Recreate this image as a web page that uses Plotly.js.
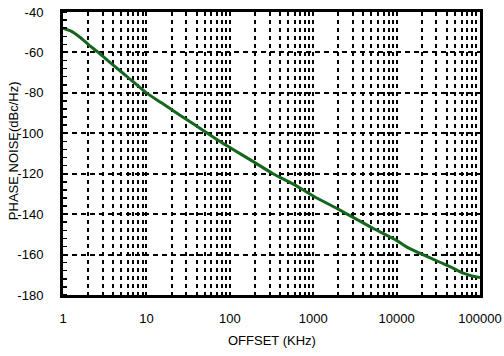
<!DOCTYPE html>
<html>
<head>
<meta charset="utf-8">
<script src="https://cdn.plot.ly/plotly-3.0.1.min.js"></script>
<style>html,body{margin:0;padding:0;background:#fff;}#chart{width:504px;height:356px;}</style>
</head>
<body>
<div id="chart"></div>
<script>
const offsetKHz = [1, 1.25, 1.6, 2, 2.65, 4, 6, 10, 15, 25, 40, 72, 100, 200, 330, 600, 1000, 2090, 5200, 10000, 13300, 20000, 33000, 47500, 63000, 80000, 100000];
const phaseNoise = [-48, -49.5, -52.5, -56, -60, -66.3, -72.3, -80, -84.8, -90.9, -96.4, -103.4, -107, -114.5, -120, -125.5, -131, -138, -147, -153, -156.3, -159.8, -163.8, -166.7, -169.2, -170.6, -171.3];
const xTickVals = [1, 10, 100, 1000, 10000, 100000];
const xTickText = ['1', '10', '100', '1000', '10000', '100000'];
const yTickVals = [-180, -160, -140, -120, -100, -80, -60, -40];
const yTickText = ['-180', '-160', '-140', '-120', '-100', '-80', '-60', '-40'];
const xTitle = 'OFFSET (KHz)';
const yTitle = 'PHASE NOISE(dBc/Hz)';

const font = {family: 'Liberation Sans, Arial, sans-serif', size: 13, color: '#000'};

Plotly.newPlot('chart', [{
  x: offsetKHz, y: phaseNoise, type: 'scatter', mode: 'lines',
  line: {color: '#16661f', width: 3, shape: 'spline', smoothing: 0.6},
  hoverinfo: 'skip'
}], {
  width: 504, height: 356,
  margin: {l: 63, r: 24, t: 12, b: 61},
  paper_bgcolor: '#fff', plot_bgcolor: '#fff',
  showlegend: false,
  font: font,
  xaxis: {
    type: 'log', range: [0, 5],
    tickmode: 'array', tickvals: xTickVals, ticktext: xTickText,
    showline: true, linecolor: '#000', linewidth: 3, mirror: true,
    showgrid: true, gridcolor: '#000', gridwidth: 2, griddash: '4px,4px',
    ticks: '', ticklabelstandoff: 9,
    zeroline: false,
    minor: {dtick: 'D1', showgrid: true, gridcolor: '#000', gridwidth: 2, griddash: '4px,4px', ticks: ''},
    tickfont: font
  },
  yaxis: {
    range: [-180, -40],
    tickmode: 'array', tickvals: yTickVals, ticktext: yTickText,
    showline: true, linecolor: '#000', linewidth: 3, mirror: true,
    showgrid: true, gridcolor: '#000', gridwidth: 2, griddash: '5px,4px',
    ticks: '', ticklabelstandoff: 14,
    zeroline: false,
    minor: {dtick: 4, ticks: 'inside', ticklen: 4, tickwidth: 1.5, tickcolor: '#000', showgrid: false},
    tickfont: font
  },
  annotations: [
    {text: xTitle, xref: 'paper', yref: 'paper', x: 0.5, y: -0.1625, xanchor: 'center', yanchor: 'middle', showarrow: false, font: font},
    {text: yTitle, xref: 'paper', yref: 'paper', x: -0.117, y: 0.509, xanchor: 'center', yanchor: 'middle', textangle: -90, showarrow: false, font: font}
  ]
}, {staticPlot: true});
</script>
</body>
</html>
